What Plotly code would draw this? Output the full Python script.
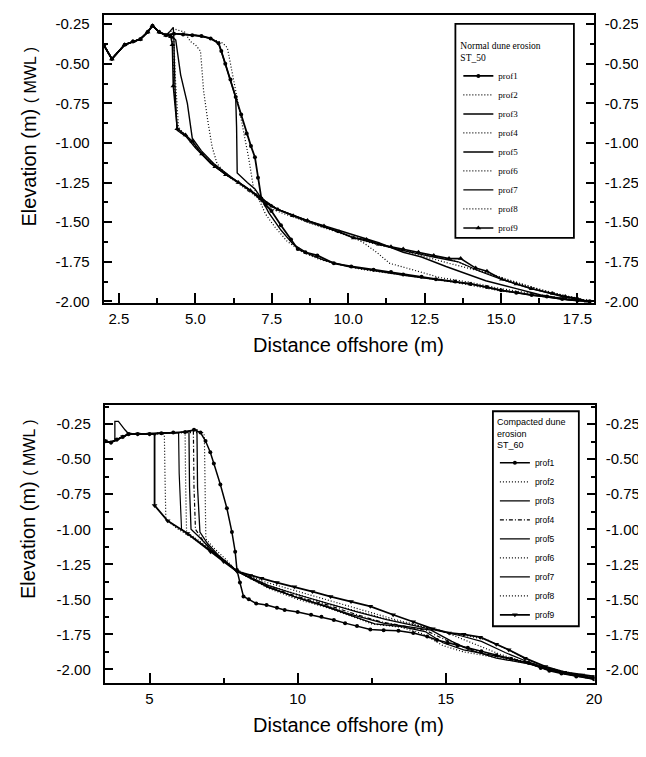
import plotly.graph_objects as go

# ---------------- DATA: top panel (Normal dune erosion, ST_50) ----------------
top_back_x = [2.0, 2.27, 2.69, 2.96, 3.2, 3.44, 3.6, 3.82, 4.04]
top_back_y = [-0.38, -0.47, -0.38, -0.36, -0.345, -0.30, -0.26, -0.30, -0.32]

top_p1_x = [4.3, 4.6, 4.9, 5.2, 5.5, 5.76, 5.85, 5.98, 6.15, 6.32, 6.5, 6.68, 6.82, 6.95, 7.05, 7.16, 7.3, 7.49, 7.8, 8.13, 8.35, 8.6, 8.99, 9.53, 10.1, 10.83, 11.4, 11.8, 12.4, 12.87, 13.5, 14.0, 14.54, 15.0, 15.5, 16.0, 16.5, 17.0, 17.5, 17.9]
top_p1_y = [-0.31, -0.315, -0.32, -0.325, -0.34, -0.37, -0.42, -0.50, -0.60, -0.71, -0.82, -0.94, -1.02, -1.09, -1.22, -1.35, -1.39, -1.43, -1.52, -1.61, -1.67, -1.69, -1.71, -1.76, -1.78, -1.80, -1.815, -1.83, -1.845, -1.86, -1.875, -1.89, -1.91, -1.93, -1.945, -1.96, -1.97, -1.985, -1.995, -2.0]

top_p2_x = [4.4, 5.0, 5.5, 5.9, 6.05, 6.2, 6.4, 6.6, 6.75, 6.9, 7.1, 7.3, 7.6, 8.0, 8.5, 9.0, 9.5, 10.5, 12.0, 13.5, 15.0, 16.5, 17.9]
top_p2_y = [-0.31, -0.32, -0.34, -0.37, -0.40, -0.55, -0.75, -0.95, -1.10, -1.28, -1.37, -1.45, -1.53, -1.62, -1.69, -1.73, -1.76, -1.80, -1.84, -1.88, -1.935, -1.97, -2.0]

top_p3_x = [4.4, 5.0, 5.5, 5.76, 5.98, 6.15, 6.32, 6.35, 6.37, 6.7, 6.95, 7.16, 7.4, 7.8, 8.2, 8.7, 9.2, 10.0, 11.0, 12.0, 13.0, 14.0, 15.0, 16.0, 17.0, 17.9]
top_p3_y = [-0.31, -0.32, -0.34, -0.37, -0.50, -0.60, -0.71, -0.90, -1.19, -1.25, -1.29, -1.35, -1.44, -1.55, -1.64, -1.70, -1.74, -1.78, -1.81, -1.84, -1.865, -1.89, -1.93, -1.96, -1.985, -2.0]

top_p4_x = [4.3, 4.65, 4.84, 5.0, 5.17, 5.27, 5.4, 5.55, 5.71, 6.0, 6.5, 7.0, 7.3, 7.8, 8.67, 9.5, 10.2, 10.5, 10.93, 11.36, 12.1, 13.0, 14.0, 15.0, 16.0, 17.0, 17.9]
top_p4_y = [-0.28, -0.30, -0.36, -0.38, -0.42, -0.67, -0.85, -1.025, -1.13, -1.20, -1.27, -1.34, -1.40, -1.44, -1.50, -1.55, -1.60, -1.63, -1.69, -1.76, -1.80, -1.85, -1.88, -1.92, -1.95, -1.98, -2.0]

top_p5_x = [4.2, 4.36, 4.52, 4.74, 4.9, 5.2, 5.6, 6.2, 6.8, 7.2, 7.7, 8.67, 9.5, 10.3, 11.0, 11.8, 12.4, 13.2, 14.5, 15.5, 16.3, 17.2, 17.9]
top_p5_y = [-0.32, -0.35, -0.57, -0.75, -0.97, -1.05, -1.13, -1.22, -1.30, -1.37, -1.42, -1.49, -1.54, -1.59, -1.63, -1.69, -1.72, -1.78, -1.87, -1.92, -1.96, -1.99, -2.0]

top_p6_x = [4.2, 4.3, 4.35, 4.45, 4.7, 5.0, 5.5, 6.2, 6.8, 7.2, 7.7, 8.67, 9.5, 10.3, 11.0, 12.0, 13.3, 14.54, 15.5, 16.5, 17.5, 17.9]
top_p6_y = [-0.32, -0.35, -0.60, -0.90, -0.96, -1.02, -1.12, -1.22, -1.30, -1.36, -1.42, -1.50, -1.55, -1.60, -1.64, -1.69, -1.76, -1.82, -1.88, -1.94, -1.98, -2.0]

top_p7_x = [4.15, 4.28, 4.3, 4.33, 4.4, 4.7, 5.0, 5.5, 6.0, 6.6, 7.16, 7.7, 8.67, 9.5, 10.2, 11.0, 11.8, 12.8, 13.6, 14.3, 15.0, 16.0, 17.0, 17.9]
top_p7_y = [-0.30, -0.27, -0.35, -0.62, -0.92, -0.96, -1.03, -1.13, -1.20, -1.27, -1.35, -1.42, -1.49, -1.55, -1.60, -1.64, -1.68, -1.72, -1.75, -1.81, -1.86, -1.92, -1.97, -2.0]

top_p8_x = [4.1, 4.24, 4.27, 4.32, 4.42, 4.7, 5.1, 5.6, 6.2, 6.8, 7.16, 7.7, 8.67, 9.5, 10.2, 11.0, 11.8, 12.8, 13.5, 14.2, 15.0, 16.0, 17.0, 17.9]
top_p8_y = [-0.31, -0.33, -0.45, -0.70, -0.92, -0.96, -1.05, -1.14, -1.22, -1.30, -1.35, -1.42, -1.50, -1.555, -1.60, -1.645, -1.675, -1.715, -1.745, -1.80, -1.855, -1.91, -1.96, -2.0]

top_p9_x = [4.2, 4.25, 4.28, 4.41, 4.68, 4.9, 5.22, 5.65, 6.0, 6.41, 6.8, 7.16, 7.5, 7.7, 8.2, 8.67, 9.21, 9.7, 10.18, 10.6, 11.0, 11.4, 11.8, 12.3, 12.8, 13.3, 13.68, 14.17, 14.54, 15.03, 15.5, 16.0, 16.69, 17.1, 17.49, 17.8]
top_p9_y = [-0.33, -0.38, -0.64, -0.91, -0.95, -0.99, -1.07, -1.15, -1.20, -1.25, -1.30, -1.35, -1.40, -1.42, -1.46, -1.49, -1.525, -1.56, -1.60, -1.61, -1.64, -1.655, -1.67, -1.69, -1.71, -1.73, -1.73, -1.79, -1.81, -1.86, -1.89, -1.92, -1.95, -1.97, -1.98, -2.0]

# ---------------- DATA: bottom panel (Compacted dune erosion, ST_60) ----------------
bot_back_x = [3.5, 3.7, 3.9, 4.1, 4.3, 4.6, 5.0]
bot_back_y = [-0.37, -0.38, -0.36, -0.34, -0.32, -0.32, -0.32]

bot_p1_x = [5.4, 5.8, 6.2, 6.5, 6.72, 6.89, 7.05, 7.17, 7.39, 7.61, 7.78, 7.89, 7.95, 8.05, 8.17, 8.35, 8.6, 8.95, 9.3, 9.56, 10.0, 10.45, 10.8, 11.22, 11.6, 12.0, 12.45, 12.9, 13.4, 13.9, 14.37, 14.7, 15.06, 15.4, 15.74, 16.2, 16.7, 17.2, 17.8, 18.2, 18.49, 18.9, 19.4, 20.0]
bot_p1_y = [-0.315, -0.31, -0.305, -0.29, -0.31, -0.37, -0.45, -0.53, -0.68, -0.85, -1.02, -1.16, -1.29, -1.38, -1.48, -1.50, -1.53, -1.54, -1.56, -1.576, -1.59, -1.61, -1.625, -1.647, -1.67, -1.69, -1.715, -1.72, -1.725, -1.74, -1.765, -1.79, -1.81, -1.83, -1.845, -1.87, -1.90, -1.925, -1.955, -1.99, -2.01, -2.03, -2.05, -2.07]

bot_p2_x = [5.5, 6.2, 6.8, 6.85, 6.88, 6.9, 7.2, 7.6, 7.95, 9.0, 10.0, 11.0, 12.0, 12.5, 13.5, 14.2, 14.9, 15.6, 16.7, 17.8, 18.4, 19.2, 20.0]
bot_p2_y = [-0.31, -0.31, -0.31, -0.33, -0.70, -1.07, -1.14, -1.22, -1.30, -1.42, -1.50, -1.56, -1.635, -1.675, -1.70, -1.745, -1.83, -1.875, -1.915, -1.96, -2.0, -2.04, -2.07]

bot_p3_x = [3.5, 3.83, 3.83, 3.95, 4.17, 4.3, 5.0, 6.0, 6.6, 6.62, 6.7, 6.95, 7.3, 7.95, 9.0, 10.0, 11.0, 12.0, 12.6, 13.5, 14.3, 14.9, 15.6, 16.7, 17.8, 18.4, 19.2, 20.0]
bot_p3_y = [-0.38, -0.37, -0.23, -0.23, -0.29, -0.32, -0.32, -0.31, -0.29, -0.70, -1.02, -1.10, -1.18, -1.30, -1.415, -1.49, -1.555, -1.63, -1.675, -1.695, -1.73, -1.81, -1.86, -1.905, -1.955, -1.995, -2.035, -2.065]

bot_p4_x = [5.5, 6.0, 6.48, 6.5, 6.55, 6.8, 7.2, 7.95, 9.0, 10.0, 11.0, 12.0, 12.8, 13.6, 14.3, 15.0, 15.7, 16.7, 17.8, 18.4, 19.2, 20.0]
bot_p4_y = [-0.31, -0.31, -0.30, -0.70, -1.00, -1.08, -1.17, -1.30, -1.41, -1.48, -1.54, -1.61, -1.66, -1.69, -1.72, -1.79, -1.85, -1.90, -1.95, -1.99, -2.03, -2.06]

bot_p5_x = [5.5, 6.0, 6.33, 6.35, 6.4, 6.7, 7.1, 7.95, 9.0, 9.89, 11.0, 11.67, 12.89, 13.8, 14.5, 15.2, 15.8, 16.7, 17.8, 18.4, 19.2, 20.0]
bot_p5_y = [-0.31, -0.31, -0.30, -0.70, -1.00, -1.06, -1.15, -1.30, -1.41, -1.48, -1.55, -1.60, -1.67, -1.70, -1.72, -1.80, -1.86, -1.92, -1.96, -2.0, -2.04, -2.07]

bot_p6_x = [5.5, 6.0, 6.2, 6.22, 6.25, 6.6, 7.1, 7.95, 9.0, 10.0, 11.0, 12.0, 13.0, 14.0, 14.8, 15.4, 16.0, 16.8, 17.6, 18.4, 19.2, 20.0]
bot_p6_y = [-0.31, -0.31, -0.31, -0.70, -1.02, -1.07, -1.15, -1.30, -1.40, -1.465, -1.53, -1.585, -1.64, -1.685, -1.72, -1.77, -1.82, -1.89, -1.945, -1.99, -2.035, -2.06]

bot_p7_x = [5.5, 5.98, 6.0, 6.08, 6.4, 7.0, 7.95, 9.0, 9.89, 11.0, 12.0, 13.0, 14.0, 14.8, 15.5, 16.2, 17.0, 17.7, 18.4, 19.2, 20.0]
bot_p7_y = [-0.31, -0.31, -0.60, -1.00, -1.05, -1.14, -1.30, -1.40, -1.46, -1.53, -1.59, -1.645, -1.69, -1.73, -1.76, -1.80, -1.88, -1.94, -1.99, -2.03, -2.06]

bot_p8_x = [5.0, 5.5, 5.52, 5.55, 5.9, 6.5, 7.1, 7.95, 8.8, 9.6, 10.5, 11.4, 12.4, 13.3, 14.2, 15.0, 15.7, 16.4, 17.1, 17.7, 18.4, 19.2, 20.0]
bot_p8_y = [-0.32, -0.32, -0.60, -0.93, -0.99, -1.07, -1.16, -1.29, -1.37, -1.42, -1.475, -1.53, -1.59, -1.645, -1.69, -1.735, -1.76, -1.79, -1.86, -1.925, -1.985, -2.025, -2.055]

bot_p9_x = [5.17, 5.17, 5.61, 6.28, 7.06, 7.5, 7.95, 8.4, 8.78, 9.3, 9.89, 10.5, 11.11, 11.8, 12.45, 13.22, 13.9, 14.56, 15.11, 15.6, 16.16, 16.7, 17.12, 17.67, 18.36, 19.0, 19.6, 20.0]
bot_p9_y = [-0.32, -0.83, -0.94, -1.03, -1.16, -1.23, -1.30, -1.33, -1.35, -1.38, -1.41, -1.445, -1.48, -1.515, -1.55, -1.61, -1.66, -1.71, -1.74, -1.75, -1.77, -1.82, -1.86, -1.92, -1.98, -2.02, -2.04, -2.05]

names = ["prof1", "prof2", "prof3", "prof4", "prof5", "prof6", "prof7", "prof8", "prof9"]

top_tick_x = [2.5, 5.0, 7.5, 10.0, 12.5, 15.0, 17.5]
top_tick_x_text = ["2.5", "5.0", "7.5", "10.0", "12.5", "15.0", "17.5"]
bot_tick_x = [5, 10, 15, 20]
bot_tick_x_text = ["5", "10", "15", "20"]
tick_y = [-2.0, -1.75, -1.5, -1.25, -1.0, -0.75, -0.5, -0.25]
tick_y_text = ["-2.00", "-1.75", "-1.50", "-1.25", "-1.00", "-0.75", "-0.50", "-0.25"]

top_profiles = [(top_p1_x, top_p1_y), (top_p2_x, top_p2_y), (top_p3_x, top_p3_y),
                (top_p4_x, top_p4_y), (top_p5_x, top_p5_y), (top_p6_x, top_p6_y),
                (top_p7_x, top_p7_y), (top_p8_x, top_p8_y), (top_p9_x, top_p9_y)]
bot_profiles = [(bot_p1_x, bot_p1_y), (bot_p2_x, bot_p2_y), (bot_p3_x, bot_p3_y),
                (bot_p4_x, bot_p4_y), (bot_p5_x, bot_p5_y), (bot_p6_x, bot_p6_y),
                (bot_p7_x, bot_p7_y), (bot_p8_x, bot_p8_y), (bot_p9_x, bot_p9_y)]

# ---------------- STYLES ----------------
DOT = "1px,2px"
top_styles = [
    dict(dash="solid", width=1.8, marker="circle", msize=4),
    dict(dash=DOT, width=1.2, marker=None, msize=0),
    dict(dash="solid", width=1.4, marker=None, msize=0),
    dict(dash=DOT, width=1.2, marker=None, msize=0),
    dict(dash="solid", width=1.4, marker=None, msize=0),
    dict(dash=DOT, width=1.2, marker=None, msize=0),
    dict(dash="solid", width=1.3, marker=None, msize=0),
    dict(dash=DOT, width=1.2, marker=None, msize=0),
    dict(dash="solid", width=1.6, marker="triangle-up", msize=5),
]
bot_styles = [
    dict(dash="solid", width=1.5, marker="circle", msize=4),
    dict(dash=DOT, width=1.2, marker=None, msize=0),
    dict(dash="solid", width=1.3, marker=None, msize=0),
    dict(dash="4px,2px,1px,2px", width=1.2, marker=None, msize=0),
    dict(dash="solid", width=1.3, marker=None, msize=0),
    dict(dash=DOT, width=1.2, marker=None, msize=0),
    dict(dash="solid", width=1.2, marker=None, msize=0),
    dict(dash=DOT, width=1.2, marker=None, msize=0),
    dict(dash="solid", width=1.8, marker="triangle-down", msize=5),
]

fig = go.Figure()

for i, ((px, py), st) in enumerate(zip(top_profiles, top_styles)):
    xs = top_back_x + px
    ys = top_back_y + py
    mode = "lines+markers" if st["marker"] else "lines"
    fig.add_trace(go.Scatter(
        x=xs, y=ys, mode=mode, name=names[i], xaxis="x",
        yaxis="y" if i < 4 else "y2", legend="legend",
        line=dict(color="black", width=st["width"], dash=st["dash"]),
        marker=dict(symbol=st["marker"] or "circle", size=st["msize"], color="black"),
    ))

for i, ((px, py), st) in enumerate(zip(bot_profiles, bot_styles)):
    if i == 2:
        xs, ys = px, py
    else:
        xs = bot_back_x + px
        ys = bot_back_y + py
    mode = "lines+markers" if st["marker"] else "lines"
    fig.add_trace(go.Scatter(
        x=xs, y=ys, mode=mode, name=names[i], xaxis="x2",
        yaxis="y3" if i < 4 else "y4", legend="legend2",
        line=dict(color="black", width=st["width"], dash=st["dash"]),
        marker=dict(symbol=st["marker"] or "circle", size=st["msize"], color="black"),
    ))

W, H = 646, 757
tick_font = dict(family="Liberation Sans, Arial, sans-serif", size=15, color="black")

def xaxis_cfg(domain, rng, tv, tt, minor_dtick, anchor):
    return dict(domain=domain, range=rng, anchor=anchor,
                tickmode="array", tickvals=tv, ticktext=tt,
                ticks="inside", ticklen=10, tickwidth=2, tickcolor="black",
                minor=dict(dtick=minor_dtick, tick0=0, ticks="inside", ticklen=5,
                           tickwidth=1.5, tickcolor="black"),
                showline=True, linecolor="black", linewidth=2, mirror=True,
                showgrid=False, zeroline=False, tickfont=tick_font,
                ticklabelstandoff=1)

def yaxis_cfg(domain, rng, anchor, side="left", overlaying=None):
    d = dict(domain=domain, range=rng, anchor=anchor, side=side,
             tickmode="array", tickvals=tick_y, ticktext=tick_y_text,
             ticks="inside", ticklen=8, tickwidth=2, tickcolor="black",
             minor=dict(dtick=0.125, tick0=0, ticks="inside", ticklen=4,
                        tickwidth=1.5, tickcolor="black"),
             showline=True, linecolor="black", linewidth=2,
             showgrid=False, zeroline=False, tickfont=tick_font,
             ticklabelstandoff=9 if side == "left" else 6)
    if overlaying:
        d["overlaying"] = overlaying
    return d

top_xdom = [96.8 / W, 593 / W]
top_ydom = [1 - 297.7 / H, 1 - 7 / H]
bot_xdom = [98 / W, 594 / W]
bot_ydom = [1 - 681.7 / H, 1 - 400.7 / H]

top_xr = [2.0, 18.03]
top_yr = [-2.01, -0.192]
bot_xr = [3.49, 20.02]
bot_yr = [-2.10, -0.113]

fig.update_layout(
    width=W, height=H,
    margin=dict(l=0, r=0, t=0, b=0),
    paper_bgcolor="white", plot_bgcolor="white",
    xaxis=xaxis_cfg(top_xdom, top_xr, top_tick_x, top_tick_x_text, 1.25, "y"),
    yaxis=yaxis_cfg(top_ydom, top_yr, "x"),
    yaxis2=yaxis_cfg(top_ydom, top_yr, "x", side="right", overlaying="y"),
    xaxis2=xaxis_cfg(bot_xdom, bot_xr, bot_tick_x, bot_tick_x_text, 2.5, "y3"),
    yaxis3=yaxis_cfg(bot_ydom, bot_yr, "x2"),
    yaxis4=yaxis_cfg(bot_ydom, bot_yr, "x2", side="right", overlaying="y3"),
    legend=dict(
        x=456 / W, y=1 - 29 / H, xanchor="left", yanchor="top",
        bgcolor="rgba(0,0,0,0)", borderwidth=0,
        font=dict(family="Liberation Serif, serif", size=9, color="black"),
        title=dict(text="Normal dune erosion<br>ST_50",
                   font=dict(family="Liberation Serif, serif", size=9.5, color="black")),
        itemwidth=30, tracegroupgap=0,
    ),
    legend2=dict(
        x=493 / W, y=1 - 409 / H, xanchor="left", yanchor="top",
        bgcolor="rgba(0,0,0,0)", borderwidth=0,
        font=dict(family="Liberation Sans, Arial, sans-serif", size=8.5, color="black"),
        title=dict(text="Compacted dune<br>erosion<br>ST_60",
                   font=dict(family="Liberation Sans, Arial, sans-serif", size=9, color="black")),
        itemwidth=30, tracegroupgap=0,
    ),
    showlegend=True,
)

# legend frames
fig.add_shape(type="rect", xref="paper", yref="paper",
              x0=453 / W, x1=573 / W, y0=1 - 232 / H, y1=1 - 16 / H,
              line=dict(color="black", width=1.8), fillcolor="white", layer="above")
fig.add_shape(type="rect", xref="paper", yref="paper",
              x0=491 / W, x1=578 / W, y0=1 - 624 / H, y1=1 - 407 / H,
              line=dict(color="black", width=1.8), fillcolor="white", layer="above")

title_font = dict(family="Liberation Sans, Arial, sans-serif", size=20, color="black")
ytitle = "Elevation (m) <span style='font-size:16px'>( MWL )</span>"
fig.add_annotation(text=ytitle, xref="paper", yref="paper", x=21 / W, y=1 - 130 / H,
                   textangle=-90, showarrow=False, font=title_font, xanchor="center", yanchor="middle")
fig.add_annotation(text=ytitle, xref="paper", yref="paper", x=21 / W, y=1 - 506 / H,
                   textangle=-90, showarrow=False, font=title_font, xanchor="center", yanchor="middle")
fig.add_annotation(text="Distance offshore (m)", xref="paper", yref="paper", x=345 / W, y=1 - 340 / H,
                   showarrow=False, font=title_font, xanchor="center", yanchor="middle")
fig.add_annotation(text="Distance offshore (m)", xref="paper", yref="paper", x=345 / W, y=1 - 724 / H,
                   showarrow=False, font=title_font, xanchor="center", yanchor="middle")

fig.write_html("out.html")
